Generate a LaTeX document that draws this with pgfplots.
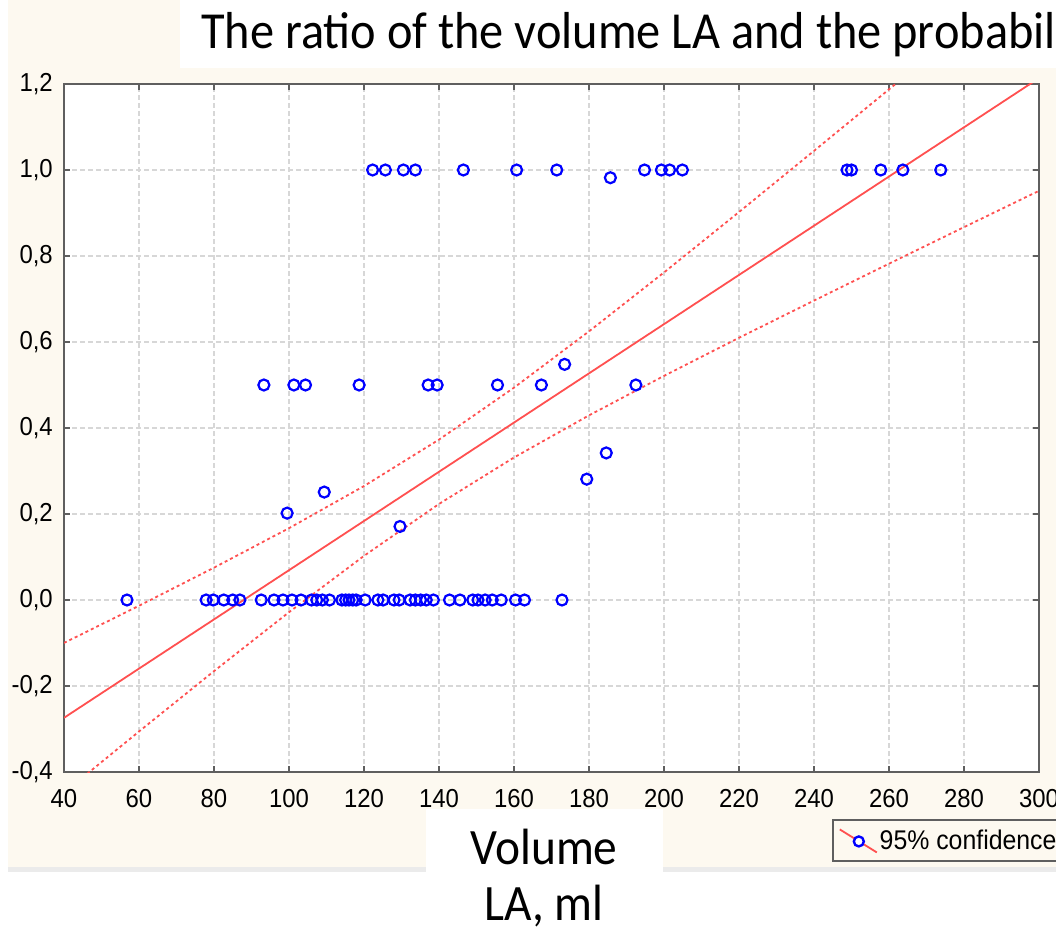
\documentclass[border=0pt]{standalone}
\usepackage{pgfplots}
\pgfplotsset{compat=1.18}
\usepackage{fontspec}
\newfontfamily\calibri[FakeStretch=0.93]{Carlito}
\newfontfamily\tickfont[FakeStretch=0.92]{Liberation Sans}
\definecolor{cream}{RGB}{253,249,240}
\definecolor{regred}{RGB}{255,80,80}
\definecolor{framegray}{RGB}{95,95,95}
\definecolor{gridgray}{RGB}{215,215,215}
\begin{document}
\begin{tikzpicture}
\clip (0pt,0pt) rectangle (1056pt,932pt);
\fill[white] (0pt,0pt) rectangle (1056pt,932pt);
\fill[black!8] (8pt,60pt) rectangle (1056pt,65pt);
\fill[cream] (8pt,65pt) rectangle (1056pt,932pt);
\fill[white] (180pt,864pt) rectangle (1056pt,932pt);
\fill[white] (426pt,60pt) rectangle (663pt,123pt);
\node[anchor=base west, inner sep=0pt, font=\calibri\fontsize{52}{52}\selectfont] at (201pt,883pt) {The ratio of the volume LA and the probability};
\node[anchor=base, inner sep=0pt, font=\calibri\fontsize{51}{51}\selectfont] at (544pt,68pt) {Volume};
\node[anchor=base, inner sep=0pt, font=\calibri\fontsize{51}{51}\selectfont] at (544pt,12pt) {LA, ml};
\begin{axis}[
  at={(64pt,160pt)}, anchor=south west,
  scale only axis, width=975pt, height=688pt,
  xmin=40, xmax=300, ymin=-0.4, ymax=1.2,
  axis background/.style={fill=white},
  axis line style={draw=framegray, line width=2.2pt},
  xtick={40,60,...,300},
  xticklabels={40,60,80,100,120,140,160,180,200,220,240,260,280,300},
  ytick={-0.4,-0.2,0,0.2,0.4,0.6,0.8,1.0,1.2},
  yticklabels={{-0,4},{-0,2},{0,0},{0,2},{0,4},{0,6},{0,8},{1,0},{1,2}},
  ticklabel style={font=\tickfont\fontsize{26}{26}\selectfont, inner sep=0pt},
  yticklabel style={anchor=east, xshift=-11pt},
  xticklabel style={anchor=north, yshift=-17pt},
  tick align=inside, major tick length=6pt,
  tick style={draw=framegray, line width=1.5pt},
  grid=major,
  major grid style={draw=gridgray, line width=1.2pt, dash pattern=on 5pt off 3pt},
  clip=true,
  legend style={at={(0.7877,-0.0683)}, anchor=north west, draw=framegray, line width=1.8pt,
    fill=cream, font=\tickfont\fontsize{27}{27}\selectfont, inner xsep=6pt, inner ysep=8pt,
    /tikz/every even column/.append style={column sep=4pt}},
  legend cell align=left,
]
% regression line
\addplot[regred, line width=1.8pt, forget plot] coordinates {(40,-0.274) (300,1.2137)};
% confidence bands
\addplot[regred, line width=1.8pt, dash pattern=on 3pt off 3pt, forget plot] coordinates {
(40,-0.0999) (60,-0.0134) (80,0.0752) (100,0.1670) (120,0.2650) (140,0.3730) (160,0.4938)
(180,0.6248) (200,0.7618) (220,0.9022) (240,1.0445) (260,1.1875) (280,1.3315) (300,1.4758)};
\addplot[regred, line width=1.8pt, dash pattern=on 3pt off 3pt, forget plot] coordinates {
(40,-0.4481) (60,-0.3058) (80,-0.1654) (100,-0.0284) (120,0.1026) (140,0.2234) (160,0.3314)
(180,0.4294) (200,0.5212) (220,0.6098) (240,0.6963) (260,0.7821) (280,0.8671) (300,0.9516)};
% observations
\addplot[only marks, mark=o, mark size=5.5pt, draw=blue, mark options={line width=2.2pt},
  legend image code/.code={
    \draw[regred, line width=1.8pt] (0pt,11pt) -- (37pt,-12pt);
    \draw[blue, line width=2.4pt, fill=white] (19pt,-1pt) circle (5pt);
  }] coordinates {
(56.8,0) (77.9,0) (79.8,0) (82.6,0) (85.0,0) (86.9,0) (92.6,0) (96.0,0) (98.4,0) (100.8,0)
(103.2,0) (106.0,0) (107.4,0) (108.9,0) (110.8,0) (114.1,0) (115.1,0) (116.0,0) (117.0,0)
(117.9,0) (120.3,0) (123.7,0) (125.1,0) (128.0,0) (129.4,0) (132.3,0) (133.7,0) (135.1,0)
(136.6,0) (138.5,0) (142.8,0) (145.6,0) (149.0,0) (150.4,0) (152.3,0) (154.2,0) (156.6,0)
(160.4,0) (162.8,0) (172.8,0)
(122.3,1) (125.7,1) (130.5,1) (133.7,1) (146.5,1) (160.7,1) (171.4,1) (185.7,0.982)
(194.8,1) (199.3,1) (201.5,1) (204.9,1) (248.8,1) (250.0,1) (257.8,1) (263.7,1) (273.8,1)
(93.3,0.5) (101.3,0.5) (104.4,0.5) (118.7,0.5) (137.1,0.5) (139.5,0.5) (155.6,0.5)
(167.3,0.5) (192.5,0.5) (173.5,0.548)
(184.6,0.342) (179.4,0.281) (109.4,0.251) (99.5,0.202) (129.6,0.171)
};
\addlegendentry{95\% confidence}
\end{axis}
\end{tikzpicture}
\end{document}
